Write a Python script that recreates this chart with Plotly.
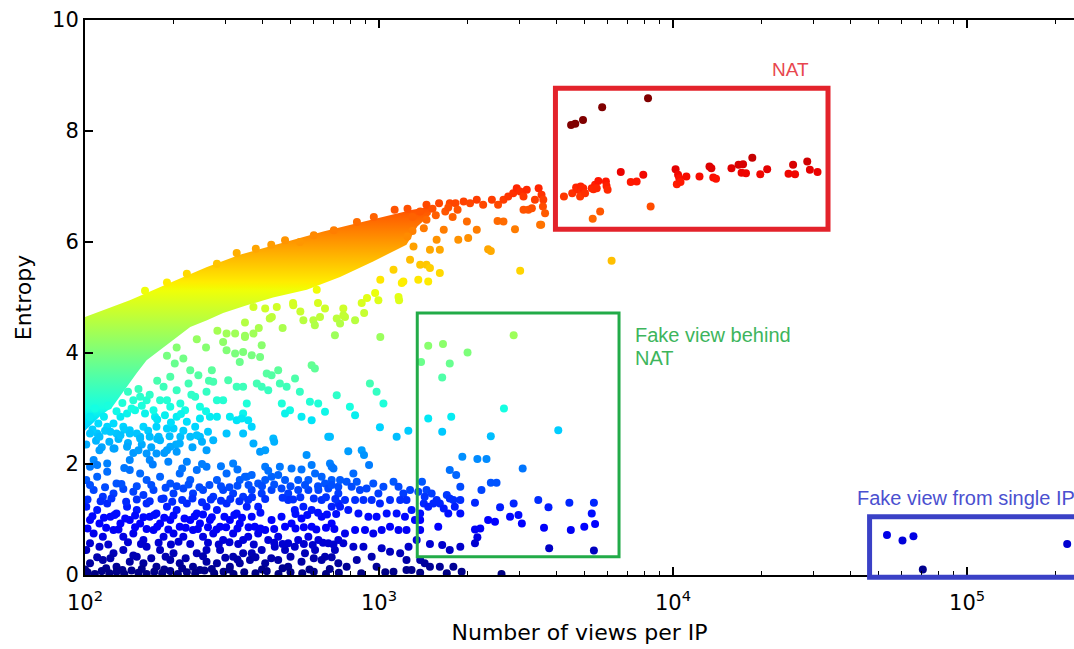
import numpy as np
import plotly.graph_objects as go

# ---------------- data (views per IP, entropy) ----------------
# outline of the solid (over-plotted) part of the cloud
dense_upper_views = [100, 142, 202, 260, 336, 471, 646, 841, 1090, 1300, 1500]
dense_upper_entropy = [4.65, 4.95, 5.30, 5.55, 5.77, 5.99, 6.19, 6.34, 6.49, 6.58, 6.64]
dense_lower_views = [1500, 1350, 1240, 955, 737, 568, 436, 355, 295, 260, 228, 199, 180, 162, 150, 139, 124, 112, 100]
dense_lower_entropy = [6.50, 6.28, 5.95, 5.65, 5.37, 5.14, 5.00, 4.86, 4.72, 4.59, 4.47, 4.23, 4.05, 3.87, 3.64, 3.39, 3.03, 2.85, 2.60]

band_edge_views = [160, 190, 222, 281, 328, 381, 430, 479, 538, 600, 702, 841, 960, 1130, 1250, 1450, 1740,
                   1300, 1380, 1450, 1520, 1560, 1600, 1680, 1720, 1780, 1820, 1850, 1300, 1420, 1250]
band_edge_entropy = [5.12, 5.27, 5.43, 5.61, 5.80, 5.88, 5.95, 6.03, 6.00, 6.12, 6.21, 6.36, 6.45, 6.58, 6.60, 6.67, 6.70,
                     6.45, 6.55, 6.40, 6.60, 6.48, 6.70, 6.55, 6.62, 6.45, 6.70, 6.58, 6.20, 6.25, 6.10]

nat_views = [4500, 4650, 4940, 5740, 8220,
             4255, 4540, 4680, 4760, 4850, 4890, 4950, 4830, 5020, 5290, 5430, 5570, 5360, 5500,
             5910, 5940, 5990, 6640, 7180, 7520, 7920, 8390, 5650, 5330, 10200, 10400, 10500,
             10300, 10600, 11100, 12300, 13300, 13500, 13700, 14000, 15800, 16700, 17300, 17100,
             17700, 18600, 19800, 20900, 24700, 25600, 26000, 28600, 29200, 31000,
             3570, 3620, 3610, 3670, 3560]
nat_entropy = [8.11, 8.13, 8.20, 8.43, 8.59,
               6.82, 6.88, 6.98, 6.94, 7.00, 6.91, 6.97, 6.82, 6.88, 6.97, 7.03, 7.10, 6.95, 6.97,
               7.09, 7.01, 6.94, 7.26, 7.08, 7.09, 7.21, 6.64, 6.55, 6.42, 7.31, 7.21, 7.15,
               7.04, 7.08, 7.18, 7.18, 7.36, 7.33, 7.16, 7.14, 7.33, 7.39, 7.40, 7.25,
               7.24, 7.52, 7.22, 7.31, 7.23, 7.39, 7.22, 7.45, 7.30, 7.26,
               6.85, 6.76, 6.64, 6.52, 6.31]

tail_views = [1940, 2040, 2150, 2260, 2420, 2540, 2650, 2750, 2860, 2940, 3020, 3100, 3180, 3220,
              3310, 3390, 3490, 3100, 3530, 2900, 2650, 2530, 2150, 2010, 1860, 2350, 2400, 1990,
              1660, 1570, 1490, 1610, 1310, 1275, 1380, 1450, 1490, 1610, 1470, 1360, 1210, 1195,
              1120, 1010, 970, 910, 873, 995, 1165, 1170, 890, 1010, 3020, 6180, 374, 510, 614]
tail_entropy = [6.73, 6.70, 6.76, 6.67, 6.76, 6.67, 6.76, 6.82, 6.88, 6.97, 6.91, 6.82, 6.94, 6.58,
                6.61, 6.76, 6.97, 6.58, 6.31, 6.23, 6.37, 6.38, 6.22, 6.07, 6.04, 5.87, 5.84, 6.37,
                6.22, 6.04, 5.86, 5.86, 5.92, 5.68, 5.59, 5.59, 5.53, 5.44, 5.29, 5.32, 5.29, 5.26,
                5.50, 5.32, 5.08, 4.99, 4.90, 4.95, 5.01, 4.95, 4.72, 4.29, 5.48, 5.66, 4.83, 4.90, 5.14]

mid_views = [303, 324, 350, 374, 410, 432, 399, 295, 303, 345, 336, 324, 369, 394, 270, 243, 273,
             307, 328, 345, 399, 420, 431, 454, 259, 281, 295, 237, 246, 219, 211, 225, 228, 216,
             202, 195, 205, 185, 180, 195, 205, 187, 173, 171, 160, 162, 154, 146, 148, 139, 132,
             135, 125, 119, 111, 110, 128, 142, 158, 175, 190, 200, 222, 237, 246, 266, 281, 311,
             328, 345, 369, 262, 246, 211, 178, 154,
             350, 425, 449, 511, 553, 598, 630, 605, 655, 590, 605, 718, 737, 766, 829, 756, 708,
             415, 518, 460, 384, 485, 538, 582, 621, 467, 498, 479, 545, 590, 655, 718, 796, 829,
             355, 341, 359, 437, 672, 931, 981, 1035, 1007, 1148, 1258, 756]
mid_entropy = [4.35, 4.35, 4.31, 4.35, 4.80, 4.65, 4.14, 4.20, 4.05, 4.02, 3.84, 3.99, 3.96, 3.93, 3.69, 3.60, 3.48,
               3.51, 3.39, 3.39, 3.39, 3.33, 3.60, 3.69, 3.30, 3.15, 3.15, 3.21, 3.03, 2.97, 3.09, 3.45, 3.69, 3.90,
               3.81, 3.57, 3.33, 3.39, 3.15, 3.03, 2.85, 2.88, 2.85, 2.97, 2.91, 3.15, 3.21, 3.15, 2.97, 2.91, 2.85,
               2.67, 2.73, 2.67, 2.73, 2.55, 2.55, 2.61, 2.67, 2.67, 2.64, 2.64, 2.76, 2.67, 2.82, 2.85, 2.85, 2.85,
               2.79, 2.91, 2.67, 2.58, 2.49, 2.49, 2.49, 2.49,
               4.29, 4.62, 4.83, 4.86, 4.59, 4.59, 4.65, 4.50, 4.80, 3.78, 3.72, 4.62, 4.53, 4.65, 4.59, 4.80, 4.32,
               3.63, 3.54, 3.45, 3.45, 3.39, 3.30, 3.12, 3.09, 3.09, 2.97, 2.91, 2.85, 2.79, 2.94, 3.24, 3.03, 2.88,
               3.09, 2.82, 2.79, 2.46, 2.49, 3.45, 3.30, 3.09, 2.66, 2.49, 2.60, 4.68]

cyan_fill_views = [101, 106, 109, 114, 117, 121, 126, 130, 136, 140, 146, 150, 156, 164, 168, 176, 186,
                   194, 204, 216, 232, 250,
                   104, 108, 116, 120, 128, 134, 140, 144, 152, 156, 166, 176, 190, 196, 212, 230, 258,
                   264, 176, 190, 205, 240, 258, 282, 350, 390, 470, 540, 620]
cyan_fill_entropy = [2.35, 2.62, 2.42, 2.30, 2.60, 2.40, 2.28, 2.45, 2.62, 2.38, 2.20, 2.55, 2.35, 2.60, 2.30, 2.45, 2.20,
                     2.50, 2.35, 2.60, 2.30, 2.40,
                     2.85, 3.00, 2.85, 3.05, 2.95, 3.10, 3.30, 3.00, 3.35, 3.05, 3.25, 3.50, 3.15, 2.75, 2.90, 3.25, 2.95,
                     3.50, 2.80, 3.95, 4.10, 4.25, 4.10, 4.40, 4.55, 4.45, 4.45, 4.75, 4.90]

green_box_views = [2870, 1470, 1650, 2000, 1390, 1740, 1640, 1470, 1760, 1640, 2660, 2400, 4070, 1920,
                   2160, 2320, 1740, 1830, 1890, 3080, 2400, 2510, 2230, 2120, 2870, 3480, 3770, 4440,
                   5380, 5290, 5430, 4990, 4490, 3640, 3060, 2980, 2790, 2580, 2480, 2350, 2210, 2120,
                   2160, 2120, 1890, 1740, 1640, 1490, 3790, 5380, 1590, 1380, 1380,
                   1400, 1450, 1510, 1570, 1610, 1700, 1740, 1790, 1810, 1890, 1660, 1420, 1470, 1530,
                   1430, 1360, 1890, 1380, 1720,
                   1380, 1430, 1490, 1610, 1790, 1910, 2610, 1240, 1290]
green_box_entropy = [4.32, 4.13, 4.16, 4.01, 3.84, 3.81, 3.56, 2.82, 2.85, 2.58, 3.00, 2.50, 2.61, 2.13,
                     2.09, 2.09, 1.89, 1.80, 1.59, 1.92, 1.66, 1.66, 1.53, 1.30, 1.29, 1.35, 1.22, 1.30,
                     1.30, 1.11, 0.92, 0.87, 0.81, 0.85, 0.93, 1.08, 1.05, 1.22, 0.96, 0.99, 0.84, 0.82,
                     0.68, 0.57, 0.51, 0.45, 0.54, 0.56, 0.48, 0.44, 0.87, 0.81, 0.99,
                     1.68, 1.53, 1.47, 1.35, 1.29, 1.44, 1.38, 1.35, 1.23, 1.35, 1.20, 1.29, 1.23, 1.29,
                     1.41, 1.50, 1.11, 1.11, 1.11,
                     0.27, 0.21, 0.15, 0.15, 0.15, 0.06, 0.02, 0.27, 0.09]

near_box_views = [786, 873, 889, 925, 818, 737, 776, 807, 840, 861, 907, 956, 995, 1035, 1120, 1165,
                  1210, 1275, 1240, 1180, 1090, 1007, 944, 885, 829, 766, 737, 786, 851, 920, 981,
                  1062, 1148, 1225, 1290, 1325, 1240, 1165, 1090, 1021, 956, 896, 829, 766, 756, 818,
                  885, 944, 1021, 1090, 1180, 1260, 1343, 840, 776, 981, 1120, 1240]
near_box_entropy = [2.23, 2.25, 2.16, 1.98, 1.83, 1.71, 1.68, 1.59, 1.68, 1.53, 1.56, 1.65, 1.47, 1.59, 1.68, 1.59,
                    1.47, 1.53, 1.35, 1.35, 1.35, 1.29, 1.35, 1.35, 1.35, 1.35, 1.23, 1.17, 1.11, 1.05, 1.05,
                    1.11, 1.11, 1.05, 1.17, 0.99, 0.81, 0.81, 0.87, 0.81, 0.75, 0.81, 0.81, 0.75, 0.57, 0.51,
                    0.51, 0.33, 0.48, 0.42, 0.39, 0.51, 0.63, 0.27, 0.15, 0.15, 0.06, 0.09]

low_left_views = [104, 112, 122, 132, 142, 154, 166, 180, 195, 210, 228, 240, 273, 112, 125, 139, 152,
                  162, 175, 190, 205, 222, 259, 303, 345, 107, 104, 119, 142, 166, 192,
                  101, 110, 119, 128, 142, 154, 162, 180, 195, 210, 228, 240, 259, 281, 303, 319, 336,
                  355, 107, 115, 125, 135, 146, 158, 171, 185, 200, 216, 233, 252, 273, 295, 319, 345,
                  101, 110, 119, 128, 139, 150, 162, 175, 190, 205, 222, 240, 259, 281, 303, 328, 355,
                  104, 112, 122, 132, 142, 154, 166, 180, 195, 210, 228, 246, 266, 288, 311, 336,
                  107, 115, 125, 135, 146, 158, 171, 185, 200, 216, 233, 252, 273, 295, 319, 345,
                  101, 112, 125, 135, 150, 162, 180, 200, 240, 259, 288, 319, 345,
                  104, 115, 128, 142, 158, 175, 195, 210, 233, 259, 281, 311, 336]
low_left_entropy = [2.55, 2.49, 2.58, 2.52, 2.55, 2.46, 2.49, 2.43, 2.31, 2.37, 2.49, 2.52, 2.43, 2.25, 2.28, 2.31, 2.25,
                    2.19, 2.19, 2.25, 2.22, 2.04, 2.25, 2.55, 2.55, 2.07, 1.95, 2.01, 2.07, 2.07, 2.04,
                    1.71, 1.77, 1.86, 1.65, 1.89, 1.83, 1.71, 1.77, 1.65, 1.83, 1.71, 1.89, 1.95, 1.71, 1.83, 2.01, 1.71,
                    1.77, 1.53, 1.41, 1.47, 1.55, 1.50, 1.44, 1.53, 1.38, 1.47, 1.56, 1.47, 1.53, 1.41, 1.53, 1.47, 1.41,
                    1.23, 1.17, 1.29, 1.11, 1.23, 1.17, 1.29, 1.11, 1.23, 1.17, 1.29, 1.11, 1.23, 1.17, 1.29, 1.11, 1.23,
                    0.99, 0.93, 1.05, 0.93, 0.99, 0.93, 1.05, 0.93, 0.99, 0.87, 0.99, 0.93, 0.99, 0.87, 0.99, 0.93,
                    0.75, 0.69, 0.81, 0.69, 0.75, 0.63, 0.81, 0.69, 0.75, 0.69, 0.81, 0.69, 0.75, 0.63, 0.75, 0.63,
                    0.45, 0.51, 0.39, 0.45, 0.33, 0.51, 0.45, 0.39, 0.39, 0.45, 0.45, 0.33, 0.39,
                    0.21, 0.27, 0.15, 0.24, 0.21, 0.15, 0.27, 0.21, 0.15, 0.24, 0.21, 0.15, 0.21]

low_left_extra_views = [110, 136, 170, 214, 250, 290, 330,
                        104, 117, 133, 150, 168, 188, 205, 225, 245, 265, 290, 310, 330,
                        102, 113, 123, 138, 150, 166, 182, 198, 214, 232, 250, 268, 290, 312, 335,
                        106, 116, 126, 137, 148, 158, 172, 186, 200, 218, 236, 252, 270, 298, 322, 342,
                        102, 118, 130, 148, 162, 176, 192, 220, 242, 262, 280, 302, 330,
                        104, 120, 140, 155, 178, 196, 208, 228, 262, 285, 310, 332,
                        110, 122, 146, 168, 188, 220, 252, 300, 330,
                        100, 118, 134, 156, 186, 214, 246, 270, 310]
low_left_extra_entropy = [1.98, 1.93, 1.99, 1.92, 2.00, 1.96, 1.90,
                          1.62, 1.58, 1.64, 1.60, 1.62, 1.57, 1.60, 1.63, 1.58, 1.62, 1.60, 1.58, 1.61,
                          1.36, 1.33, 1.38, 1.32, 1.36, 1.33, 1.37, 1.32, 1.35, 1.38, 1.31, 1.36, 1.34, 1.37, 1.33,
                          1.06, 1.03, 1.08, 1.02, 1.07, 1.04, 1.08, 1.03, 1.07, 1.02, 1.06, 1.09, 1.04, 1.05, 1.08, 1.03,
                          0.84, 0.85, 0.82, 0.86, 0.83, 0.87, 0.82, 0.85, 0.83, 0.86, 0.82, 0.86, 0.84,
                          0.57, 0.55, 0.59, 0.56, 0.58, 0.55, 0.60, 0.56, 0.58, 0.55, 0.59, 0.56,
                          0.32, 0.30, 0.35, 0.30, 0.33, 0.30, 0.34, 0.31, 0.28,
                          0.10, 0.12, 0.09, 0.11, 0.10, 0.12, 0.09, 0.11, 0.10]

low_mid_views = [374, 394, 410, 440, 567, 681, 681, 690, 410,
                 350, 369, 388, 410, 431, 454, 479, 504, 531, 575, 606, 638, 655, 690, 727,
                 369, 399, 431, 466, 491, 531, 575, 622, 672, 727,
                 359, 388, 491, 517, 553, 590, 638, 690, 727, 369, 431, 466, 504, 545, 590, 638, 690,
                 378, 410, 479,
                 359, 388, 420, 454, 491, 531, 575, 622, 672, 727, 369, 399, 442, 479, 517, 560, 606,
                 655, 708, 364, 410, 454, 491, 545, 638, 727]
low_mid_entropy = [2.37, 2.22, 2.25, 2.40, 2.16, 2.49, 2.01, 1.95, 1.95,
                   1.77, 1.80, 1.65, 1.71, 1.77, 1.80, 1.71, 1.92, 1.71, 1.71, 1.83, 1.77, 1.65, 1.71, 1.59,
                   1.53, 1.47, 1.53, 1.56, 1.47, 1.53, 1.53, 1.53, 1.56, 1.47,
                   1.35, 1.23, 1.35, 1.17, 1.23, 1.17, 1.35, 1.23, 1.29, 1.05, 0.99, 1.05, 0.93, 1.02, 0.87, 1.05, 0.93,
                   0.87, 0.81, 0.87,
                   0.69, 0.75, 0.63, 0.69, 0.57, 0.63, 0.69, 0.63, 0.57, 0.63, 0.39, 0.45, 0.51, 0.45, 0.51, 0.39, 0.45,
                   0.33, 0.45, 0.27, 0.21, 0.27, 0.15, 0.24, 0.27, 0.21]

low_mid_extra_views = [420, 460, 545, 590, 700,
                       360, 400, 440, 500, 560, 620, 690,
                       370, 410, 470, 510, 540, 600, 660, 710,
                       395, 520, 570, 620, 665, 715,
                       360, 395, 440, 520, 555, 612, 660, 705,
                       375, 440, 470, 555, 595, 645, 700,
                       380, 430, 500, 600, 690,
                       400, 470, 580, 680]
low_mid_extra_entropy = [1.88, 1.95, 1.90, 1.98, 1.92,
                         1.62, 1.60, 1.63, 1.60, 1.62, 1.60, 1.62,
                         1.40, 1.37, 1.39, 1.36, 1.40, 1.38, 1.40, 1.37,
                         1.12, 1.10, 1.08, 1.12, 1.09, 1.10,
                         0.86, 0.84, 0.83, 0.84, 0.86, 0.82, 0.85, 0.83,
                         0.55, 0.58, 0.56, 0.56, 0.54, 0.58, 0.55,
                         0.32, 0.30, 0.33, 0.30, 0.32,
                         0.10, 0.12, 0.10, 0.11]

floor_views = [102, 108, 114, 121, 128, 136, 144, 152, 162, 172, 183, 195, 207, 222, 237, 255, 275,
               296, 320, 348, 380, 415, 455, 500, 548, 600, 660, 730, 870, 1050, 1380, 1700]
floor_entropy = [0.05, 0.02, 0.07, 0.03, 0.06, 0.02, 0.08, 0.04, 0.02, 0.06, 0.03, 0.07, 0.02, 0.05, 0.03, 0.08, 0.03,
                 0.06, 0.02, 0.05, 0.03, 0.07, 0.02, 0.05, 0.03, 0.06, 0.02, 0.04, 0.03, 0.05, 0.04, 0.03]

single_ip_views = [53400, 60300, 65700, 70700, 219000]
single_ip_entropy = [0.72, 0.62, 0.70, 0.10, 0.56]

x_tick_values = [1e2, 1e3, 1e4, 1e5]
x_tick_text = ["10<sup>2</sup>", "10<sup>3</sup>", "10<sup>4</sup>", "10<sup>5</sup>"]
y_tick_values = [0, 2, 4, 6, 8, 10]

CMAX = 8.0


def jet_scale():
    stops = [0, 0.11, 0.125, 0.34, 0.35, 0.375, 0.64, 0.65, 0.66, 0.89, 0.91, 1.0]
    r = np.interp(stops, [0, 0.35, 0.66, 0.89, 1], [0, 0, 1, 1, 0.5])
    g = np.interp(stops, [0, 0.125, 0.375, 0.64, 0.91, 1], [0, 0, 1, 1, 0, 0])
    b = np.interp(stops, [0, 0.11, 0.34, 0.65, 1], [0.5, 1, 1, 0, 0])
    return [[s, f"rgb({round(rr*255)},{round(gg*255)},{round(bb*255)})"] for s, rr, gg, bb in zip(stops, r, g, b)]


JET = jet_scale()

all_views = (band_edge_views + tail_views + mid_views + cyan_fill_views + low_left_views + low_left_extra_views
             + low_mid_views + low_mid_extra_views + near_box_views + green_box_views + floor_views
             + nat_views + single_ip_views)
all_entropy = (band_edge_entropy + tail_entropy + mid_entropy + cyan_fill_entropy + low_left_entropy
               + low_left_extra_entropy + low_mid_entropy + low_mid_extra_entropy + near_box_entropy
               + green_box_entropy + floor_entropy + nat_entropy + single_ip_entropy)

fig = go.Figure()
fig.add_trace(go.Scatter(
    x=dense_upper_views + dense_lower_views,
    y=dense_upper_entropy + dense_lower_entropy,
    mode="lines", fill="toself",
    line=dict(width=0, color="rgba(0,0,0,0)"),
    fillgradient=dict(type="vertical", colorscale=JET, start=0, stop=CMAX),
    hoverinfo="skip", showlegend=False))
fig.add_trace(go.Scatter(
    x=all_views, y=all_entropy, mode="markers",
    marker=dict(size=8, color=all_entropy, colorscale=JET, cmin=0, cmax=CMAX, line=dict(width=0)),
    showlegend=False))

minor_vals = [m * 10 ** k for k in range(2, 6) for m in range(2, 10)]
axis_font = dict(size=21, family="DejaVu Sans", color="black")
title_font = dict(size=22, family="DejaVu Sans", color="black")

fig.update_xaxes(type="log", range=[2, np.log10(2.31e5)], tickvals=x_tick_values, ticktext=x_tick_text,
                 ticks="inside", ticklen=8, tickwidth=1.5, tickcolor="black", ticklabelstandoff=8,
                 minor=dict(tickvals=minor_vals, ticks="inside", ticklen=4, tickwidth=1, tickcolor="black"),
                 showline=True, linecolor="black", linewidth=2, mirror="allticks",
                 showgrid=False, zeroline=False,
                 title=dict(text="Number of views per IP", font=title_font, standoff=10),
                 tickfont=axis_font)
fig.update_yaxes(range=[0, 10], tickvals=y_tick_values, ticks="inside", ticklen=8, tickwidth=1.5,
                 tickcolor="black", showline=True, linecolor="black", linewidth=2,
                 showgrid=False, zeroline=False,
                 title=dict(text="Entropy", font=title_font, standoff=14),
                 tickfont=axis_font)

fig.add_shape(type="rect", xref="x", yref="y", x0=3981, x1=33650, y0=6.23, y1=8.77,
              line=dict(color="#e3232b", width=5))
fig.add_shape(type="rect", xref="x", yref="y", x0=1349, x1=6550, y0=0.33, y1=4.72,
              line=dict(color="#22ab48", width=3))
fig.add_shape(type="rect", xref="x", yref="paper", x0=46600, x1=400000, y0=-0.004, y1=0.105,
              line=dict(color="#3a41c6", width=5))

ann_font = "Liberation Sans"
fig.add_annotation(xref="paper", yref="paper", x=0.713, y=0.910, text="NAT", showarrow=False,
                   font=dict(family=ann_font, size=19, color="#e8464e"), xanchor="center", yanchor="middle")
fig.add_annotation(xref="paper", yref="paper", x=0.554, y=0.4324, text="Fake view behind",
                   showarrow=False, font=dict(family=ann_font, size=20, color="#3db55c"),
                   xanchor="left", yanchor="middle")
fig.add_annotation(xref="paper", yref="paper", x=0.554, y=0.391, text="NAT",
                   showarrow=False, font=dict(family=ann_font, size=20, color="#3db55c"),
                   xanchor="left", yanchor="middle")
fig.add_annotation(xref="paper", yref="paper", x=0.7786, y=0.1387, text="Fake view from single IP",
                   showarrow=False, font=dict(family=ann_font, size=20, color="#4b50d0"),
                   xanchor="left", yanchor="middle")

fig.update_layout(width=1074, height=649, margin=dict(l=85, r=0, t=20, b=74),
                  paper_bgcolor="white", plot_bgcolor="white")

fig.write_html("out.html")
